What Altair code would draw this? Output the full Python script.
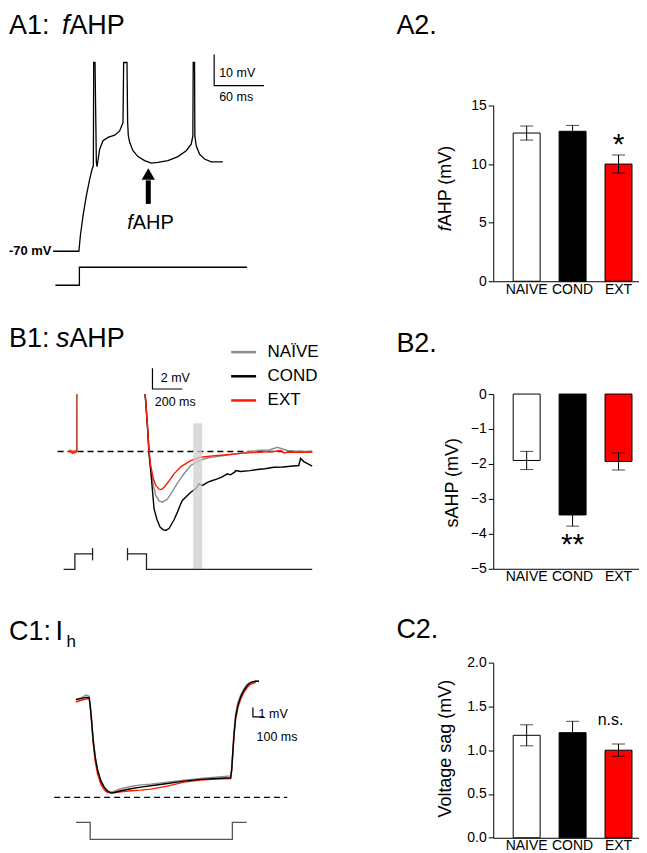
import altair as alt
import pandas as pd

FONT = "Liberation Sans"

# ---------------- bar chart data ----------------
groups = ["NAIVE", "COND", "EXT"]
bar_colors = ["#ffffff", "#000000", "#ff0000"]

fahp_mean = [12.65, 12.8, 10.0]
fahp_sem = [0.6, 0.5, 0.77]
sahp_mean = [-1.9, -3.46, -1.93]
sahp_sem = [0.26, 0.32, 0.24]
sag_mean = [1.17, 1.2, 1.0]
sag_sem = [0.12, 0.13, 0.07]

trace_groups = ["NAÏVE", "COND", "EXT"]
trace_colors = ["#8c8c8c", "#000000", "#ff1a00"]

# ---------------- A1: fAHP trace (ms, mV) ----------------
a1_t = [-31.0, 0.0, 1.8, 5.0, 9.0, 13.0, 15.8, 17.4, 17.8, 19.4, 21.0, 21.8, 25.0, 29.0,
        35.0, 43.0, 49.0, 53.0, 53.8, 57.8, 58.6, 59.4, 61.0, 65.0, 71.0, 79.0, 87.0,
        95.0, 107.0, 119.0, 129.0, 135.0, 137.0, 137.4, 139.0, 139.4, 141.0, 145.0,
        151.0, 159.0, 173.0]
a1_v = [-70.0, -70.0, -64.9, -58.5, -52.0, -46.7, -43.5, -42.4, -9.0, -9.0, -41.3, -42.7,
        -37.0, -34.3, -33.2, -32.5, -31.1, -28.4, -9.0, -9.0, -28.4, -32.6, -34.8, -37.5,
        -39.4, -40.7, -41.5, -41.3, -40.7, -39.4, -37.5, -35.4, -32.7, -9.0, -9.0, -32.7,
        -35.9, -38.6, -40.2, -41.1, -41.1]
a1_step_t = [-28.2, 0.6, 0.6, 202.2]
a1_step_i = [0, 0, 1, 1]

# ---------------- B1: sAHP traces (ms, mV rel. baseline) ----------------
b1_naive_t = [0, 4.7, 16, 26.7, 38, 56, 71.3, 93.3, 116, 149.3, 182.7, 216, 260, 304.7,
              360, 420, 527, 640, 749, 830, 883, 950, 1030, 1116]
b1_naive_v = [5.56, 4.76, 2.51, 0, -1.68, -3.28, -4.25, -4.77, -4.90, -4.60, -3.85, -3.05,
              -2.15, -1.35, -0.87, -0.60, -0.39, -0.15, 0.10, 0.15, 0.41, 0.10, 0.02, 0.0]
b1_cond_t = [0, 4.7, 16, 26.7, 38, 60, 80, 100, 120, 138, 160, 193.3, 216, 238, 249.3,
             304.7, 338, 360, 382.7, 420, 450, 482.7, 515, 549.3, 570, 598, 604.7, 638,
             700, 749.3, 800, 860, 920, 971.3, 1026.7, 1038, 1060, 1116]
b1_cond_v = [5.56, 4.76, 2.35, -0.3, -1.9, -5.54, -6.6, -7.3, -7.55, -7.63, -7.45, -6.6,
             -5.86, -5.06, -4.73, -3.93, -3.61, -3.13, -3.28, -2.95, -2.80, -2.65, -2.45,
             -2.16, -2.25, -2.0, -1.84, -1.93, -1.85, -1.74, -1.66, -1.52, -1.50, -1.42,
             -1.35, -0.65, -0.97, -1.42]
b1_ext_t = [0, 4.7, 16, 26.7, 38, 56, 71.3, 93.3, 110, 130, 160, 193.3, 240, 304.7, 371,
            450, 527, 640, 749, 860, 905, 926.7, 960, 1116]
b1_ext_v = [5.56, 4.76, 2.51, 0, -1.42, -2.65, -3.28, -3.64, -3.67, -3.40, -2.85, -2.16,
            -1.45, -0.87, -0.55, -0.42, -0.33, -0.18, -0.07, 0.0, 0.10, -0.14, -0.05, -0.07]
b1_pre_band_t = [-507, -482, -456]
b1_pre_band_v = [0.1, -0.1, 0.05]
b1_pre_spike_t = [-456.5, -455.3, -454.0]
b1_pre_spike_v = [0.0, 5.56, 0.0]
b1_step_t = [-544, -468.7, -468.7, -350.7, -350.7, -350.7, -117.3, -117.3,
             -117.3, 9.3, 9.3, 1116]
b1_step_i = [0, 0, 1, 1, 1.365, 0.577, 1.365, 0.577, 1, 1, 0, 0]
b1_step_seg = [1, 1, 1, 1, 2, 2, 3, 3, 4, 4, 4, 4]

# ---------------- C1: Ih traces (ms, mV rel. rest) ----------------
c1_t = [-127.3, -81.8, -36.4, -6.4, 2.7, 15.5, 30, 48.2, 70, 100, 130, 160.9, 190.9,
        220.9, 281.8, 372.7, 463.6, 554.5, 706.3, 857.2, 1009, 1145.3, 1281.7, 1290.8,
        1302.6, 1311.7, 1327.1, 1348, 1372.6, 1402.6, 1433.5, 1463.5, 1509, 1539]
c1_cond_v = [0, 0.11, 0.24, 0.21, -0.61, -2.20, -4.33, -6.14, -7.52, -8.69, -9.36, -9.76,
             -9.94, -9.90, -9.72, -9.51, -9.33, -9.19, -8.94, -8.69, -8.51, -8.41, -8.34,
             -7.52, -5.39, -3.80, -1.85, -0.61, 0.28, 0.99, 1.52, 1.81, 1.95, 1.95]
c1_naive_v = [0.03, 0.17, 0.49, 0.35, -0.50, -2.09, -4.22, -6.03, -7.42, -8.59, -9.30,
              -9.72, -9.87, -9.76, -9.51, -9.26, -9.09, -9.01, -8.80, -8.59, -8.41, -8.27,
              -8.13, -7.31, -5.18, -3.48, -1.56, -0.29, 0.49, 1.13, 1.63, 1.87, 1.98, 1.98]
c1_ext_v = [-0.26, -0.07, 0.06, 0.11, -0.71, -2.42, -4.65, -6.57, -7.95, -9.01, -9.62,
            -9.90, -9.97, -9.94, -9.83, -9.72, -9.65, -9.54, -9.22, -8.80, -8.59, -8.48,
            -8.41, -7.63, -5.61, -4.01, -2.10, -0.82, 0.03, 0.78, 1.31, 1.63, 1.84]
c1_step_t = [-127.3, 2.7, 2.7, 1297.2, 1297.2, 1427]
c1_step_i = [0, 0, -1, -1, 0, 0]

# ---------------- helpers ----------------
def X(dom):
    return alt.X("t:Q", scale=alt.Scale(domain=dom, nice=False, zero=False), axis=None)


def Y(dom, field="v"):
    return alt.Y(f"{field}:Q", scale=alt.Scale(domain=dom, nice=False, zero=False), axis=None)


def line_df(t, v, **const):
    df = pd.DataFrame({"t": t, "v": v})
    df["i"] = list(range(len(df)))
    for k, val in const.items():
        df[k] = val
    return df


def one(t, v):
    return pd.DataFrame({"t": [t], "v": [v]})


def label(xd, yd, t, v, text, size=12.5, align="left", baseline="middle", **kw):
    return alt.Chart(one(t, v)).mark_text(
        text=text, font=FONT, fontSize=size, align=align, baseline=baseline,
        color="black", **kw).encode(x=X(xd), y=Y(yd))


TS = 27  # panel title font size


def title_text(text, x, y, size=TS, style="normal", align="left", baseline="alphabetic",
               angle=0):
    return alt.Chart(pd.DataFrame({"k": [0]})).mark_text(
        text=text, font=FONT, fontSize=size, fontStyle=style, align=align,
        baseline=baseline, angle=angle, color="black").encode(x=alt.value(x), y=alt.value(y))


def trace(xd, yd, t, v, color="black", width=1.3, dash=None):
    kw = {}
    if dash:
        kw["strokeDash"] = dash
    return alt.Chart(line_df(t, v)).mark_line(color=color, strokeWidth=width, **kw).encode(
        x=X(xd), y=Y(yd), order="i:Q")


def scalebar(xd, yd, t0, v0, dt, dv, width=1.2):
    return trace(xd, yd, [t0, t0, t0 + dt], [v0 + dv, v0, v0], width=width)


LW = 330
TA = -72  # baseline of the A-row titles relative to the A-row plot top

# ---------------- A1 ----------------
A1_X = [-84, 312]
A1_Y = [-79.7, -22.9]
A1_SY = [0.222, 10.0]
a1_layers = [
    trace(A1_X, A1_Y, a1_t, a1_v, width=1.3),
    alt.Chart(pd.DataFrame({"t": a1_step_t, "s": a1_step_i, "i": range(4)})).mark_line(
        color="black", strokeWidth=1.3).encode(x=X(A1_X), y=Y(A1_SY, "s"), order="i:Q"),
    label(A1_X, A1_Y, -33, -70, "-70 mV", size=13, align="right", fontWeight="bold"),
    alt.Chart(pd.DataFrame({"t": [83.4], "v": [-54.7], "v2": [-47.1]})).mark_rule(
        strokeWidth=5, color="black").encode(x=X(A1_X), y=Y(A1_Y), y2="v2:Q"),
    alt.Chart(one(83.4, -45.0)).mark_point(shape="triangle-up", size=177, filled=True,
                                          color="black", opacity=1).encode(x=X(A1_X), y=Y(A1_Y)),
    label(A1_X, A1_Y, 64.8, -62.9, "f", size=20, align="right", baseline="alphabetic",
          fontStyle="italic"),
    label(A1_X, A1_Y, 64.8, -62.9, "AHP", size=20, align="left", baseline="alphabetic"),
    scalebar(A1_X, A1_Y, 162.6, -16.45, 60, 10),
    label(A1_X, A1_Y, 168.6, -12.3, "10 mV"),
    label(A1_X, A1_Y, 168.6, -20.3, "60 ms"),
    title_text("A1:", 0, TA),
    title_text("f", 60.5, TA, style="italic", align="right"),
    title_text("AHP", 60.5, TA),
]
A1 = alt.layer(*a1_layers).resolve_scale(y="independent").properties(width=LW, height=176)

# ---------------- B1 ----------------
B1_X = [-908.7, 1291.4]
B1_Y = [-11.34, 5.56]
B1_SY = [0.038, 11.26]
b1_df = pd.concat([
    line_df(b1_naive_t, b1_naive_v, grp="NAÏVE"),
    line_df(b1_cond_t, b1_cond_v, grp="COND"),
    line_df(b1_ext_t, b1_ext_v, grp="EXT"),
])
b1_layers = [
    trace(B1_X, B1_Y, [-584, 1116], [0, 0], width=1.4, dash=[6, 4]),
    alt.Chart(b1_df).mark_line(strokeWidth=1.4).encode(
        x=X(B1_X), y=Y(B1_Y), order="i:Q",
        stroke=alt.Stroke("grp:N", scale=alt.Scale(domain=trace_groups, range=trace_colors),
                          legend=alt.Legend(title=None, orient="none", legendX=221, legendY=-56,
                                            symbolType="stroke", symbolSize=625,
                                            symbolStrokeWidth=2.5, labelFont=FONT,
                                            labelFontSize=17, labelColor="black",
                                            labelOffset=10, rowPadding=2.2, padding=0))),
    trace(B1_X, B1_Y, b1_pre_band_t, b1_pre_band_v, color="#ff3300", width=3),
    trace(B1_X, B1_Y, b1_pre_spike_t, b1_pre_spike_v, color="#b03020", width=1),
    alt.Chart(pd.DataFrame({"t": [321.3], "t2": [381.3], "v": [-11.34], "v2": [2.73]})).mark_rect(
        color="#cfcfcf", opacity=0.75).encode(x=X(B1_X), x2="t2:Q", y=Y(B1_Y), y2="v2:Q"),
    alt.Chart(pd.DataFrame({"t": b1_step_t, "s": b1_step_i, "seg": b1_step_seg,
                            "i": range(len(b1_step_t))})).mark_line(
        color="#222222", strokeWidth=1.3).encode(x=X(B1_X), y=Y(B1_SY, "s"), detail="seg:N",
                                                 order="i:Q"),
    scalebar(B1_X, B1_Y, 49.3, 6.05, 200, 2),
    label(B1_X, B1_Y, 104.7, 7.08, "2 mV"),
    label(B1_X, B1_Y, 64.7, 4.83, "200 ms"),
    title_text("B1:", 0, -46.7),
    title_text("s", 60.5, -46.7, style="italic", align="right"),
    title_text("AHP", 60.5, -46.7),
]
B1 = alt.layer(*b1_layers).resolve_scale(y="independent").properties(width=LW, height=175)

# ---------------- C1 ----------------
C1_X = [-736.4, 2263.4]
C1_Y = [-14.73, 3.94]
C1_SY = [-0.906, 9.41]
c1_df = pd.concat([
    line_df(c1_t[:-1], c1_ext_v, grp="EXT"),
    line_df(c1_t, c1_naive_v, grp="NAÏVE"),
    line_df(c1_t, c1_cond_v, grp="COND"),
])
c1_layers = [
    trace(C1_X, C1_Y, [-324.5, 1797], [-10.43, -10.43], width=1.4, dash=[6, 4]),
    alt.Chart(c1_df).mark_line(strokeWidth=1.4).encode(
        x=X(C1_X), y=Y(C1_Y), order="i:Q",
        stroke=alt.Stroke("grp:N", scale=alt.Scale(domain=trace_groups, range=trace_colors),
                          legend=None)),
    alt.Chart(pd.DataFrame({"t": c1_step_t, "s": c1_step_i, "i": range(6)})).mark_line(
        color="#555555", strokeWidth=1.3).encode(x=X(C1_X), y=Y(C1_SY, "s"), order="i:Q"),
    scalebar(C1_X, C1_Y, 1484.4, -1.85, 100, 1),
    label(C1_X, C1_Y, 1536.2, -1.49, "1 mV"),
    label(C1_X, C1_Y, 1518, -3.98, "100 ms"),
    title_text("C1:", 0, -22.3),
    title_text("I", 46.5, -22.3),
    title_text("h", 57.5, -15.6, size=17),
]
C1 = alt.layer(*c1_layers).resolve_scale(y="independent").properties(width=LW, height=175.4)

BW = 146  # bar panel plot width (keeps the whole figure inside the 631 px page width)


# ---------------- bar panels ----------------
def bar_panel(mean, sem, ydom, ticks, fmt, ytitle, tx, ty, h, letter, ly,
              sig_text, sig_group, sig_y, sig_size, sig_dx=0, italic_title=None):
    df = pd.DataFrame({"group": groups, "mean": mean,
                       "lo": [m - s for m, s in zip(mean, sem)],
                       "hi": [m + s for m, s in zip(mean, sem)]})
    xenc = alt.X("group:N", sort=groups,
                 scale=alt.Scale(paddingInner=0.413, paddingOuter=0.2935, align=0.74),
                 axis=alt.Axis(title=None, labelAngle=0, ticks=False, domainColor="black",
                               labelFont=FONT, labelFontSize=14, labelColor="black",
                               labelPadding=1))
    yscale = alt.Scale(domain=ydom, nice=False, zero=True)
    axis_kw = dict(values=ticks, format=fmt, grid=False, tickSize=5, tickColor="black",
                   domainColor="black", labelFont=FONT, labelFontSize=14,
                   labelColor="black", labelPadding=2)
    if italic_title is None:
        yaxis = alt.Axis(title=ytitle, titleFont=FONT, titleFontSize=18,
                         titleFontWeight="normal", titleColor="black", titleX=tx, titleY=ty,
                         titleAngle=270, titleAlign="center", titleBaseline="middle",
                         **axis_kw)
    else:
        yaxis = alt.Axis(title=None, **axis_kw)
    bars = alt.Chart(df).mark_bar(stroke="black", strokeWidth=1, size=27).encode(
        x=xenc, y=alt.Y("mean:Q", scale=yscale, axis=yaxis),
        fill=alt.Fill("group:N", scale=alt.Scale(domain=groups, range=bar_colors), legend=None))
    err = alt.Chart(df).mark_rule(color="black", strokeWidth=1).encode(
        x=xenc, y=alt.Y("lo:Q", scale=yscale, axis=yaxis), y2="hi:Q")
    cap_hi = alt.Chart(df).mark_tick(color="black", thickness=1, size=13).encode(
        x=xenc, y=alt.Y("hi:Q", scale=yscale, axis=yaxis))
    cap_lo = alt.Chart(df).mark_tick(color="black", thickness=1, size=13).encode(
        x=xenc, y=alt.Y("lo:Q", scale=yscale, axis=yaxis))
    sig = alt.Chart(pd.DataFrame({"group": [sig_group], "sy": [sig_y]})).mark_text(
        text=sig_text, font=FONT, fontSize=sig_size, baseline="alphabetic", color="black",
        dx=sig_dx).encode(x=xenc, y=alt.Y("sy:Q", scale=yscale, axis=yaxis))
    layers = [bars, err, cap_hi, cap_lo, sig, title_text(letter, -97, ly)]
    if italic_title is not None:
        first, rest = italic_title
        # rotated title split in an italic and an upright part, meeting at the anchor
        layers.append(title_text(first, tx, ty, size=18, style="italic", align="right",
                                 baseline="middle", angle=270))
        layers.append(title_text(rest, tx, ty, size=18, align="left", baseline="middle",
                                 angle=270))
    return alt.layer(*layers).properties(width=BW, height=h)


A2 = bar_panel(fahp_mean, fahp_sem, [0, 15], [0, 5, 10, 15], "d", None,
               -47.5, 121, 176, "A2.", TA, "*", "EXT", 10.87, 30,
               italic_title=("f", "AHP (mV)"))
B2 = bar_panel(sahp_mean, sahp_sem, [-5, 0], [-5, -4, -3, -2, -1, 0], "d", "sAHP (mV)",
               -40.5, 88.3, 175, "B2.", -41.7, "**", "COND", -4.59, 30)
C2 = bar_panel(sag_mean, sag_sem, [0, 2], [0, 0.5, 1.0, 1.5, 2.0], ".1f",
               "Voltage sag (mV)", -48, 85.7, 175.4, "C2.", -24.3, "n.s.", "EXT", 1.285, 16,
               sig_dx=-8)


def spacer(h):
    return alt.Chart(pd.DataFrame({"k": [0]})).mark_point(opacity=0).properties(width=10, height=h)


chart = alt.concat(
    A1, A2,
    spacer(112.7), spacer(112.7),
    B1, B2,
    spacer(93.6), spacer(93.6),
    C1, C2,
    columns=2, spacing={"row": 0, "column": 155}, bounds="flush", align="each",
).resolve_scale(stroke="independent").configure_view(stroke=None).properties(
    padding={"top": 3, "left": 0, "right": 0, "bottom": 0})

chart.save("out.html", embed_options={"renderer": "svg", "actions": False})
